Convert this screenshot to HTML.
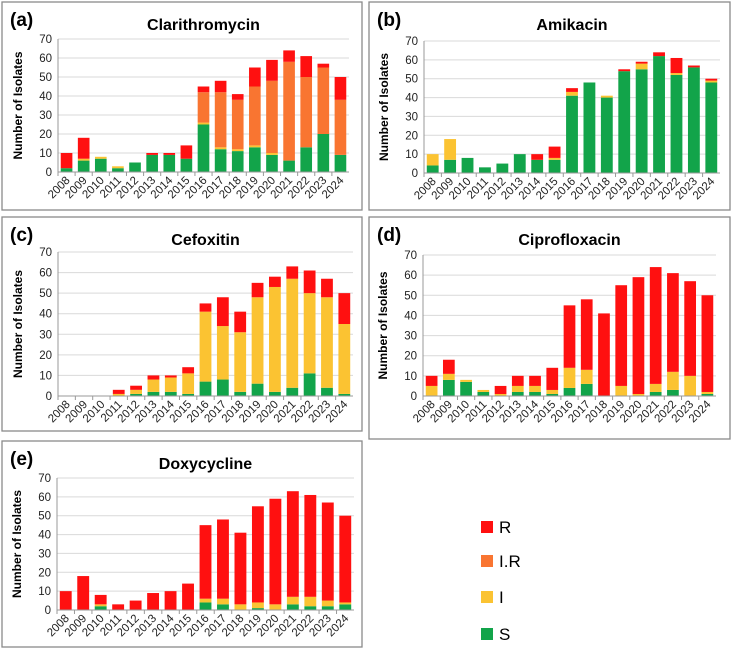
<!DOCTYPE html>
<html><head><meta charset="utf-8"><style>
html,body{margin:0;padding:0;background:#fff;}
svg{display:block;font-family:"Liberation Sans",Arial,sans-serif;}
</style></head><body>
<svg id="chart" width="732" height="649" viewBox="0 0 732 649" xmlns="http://www.w3.org/2000/svg"></svg>
<script>
const years = ["2008","2009","2010","2011","2012","2013","2014","2015","2016","2017","2018","2019","2020","2021","2022","2023","2024"];
const yTicks = [0,10,20,30,40,50,60,70];
const seriesNames = ["S","I","I.R","R"];
const seriesColors = ["#12a44a","#fbc332","#f97531","#ff1010"];

const claS = [2,6,7,2,5,9,9,7,25,12,11,13,9,6,13,20,9];
const claI = [0,1,1,1,0,0,0,0,1,1,1,1,1,0,0,0,0];
const claIR = [0,0,0,0,0,0,0,0,16,29,26,31,38,52,37,35,29];
const claR = [8,11,0,0,0,1,1,7,3,6,3,10,11,6,11,2,12];

const amiS = [4,7,8,3,5,10,7,7,41,48,40,54,55,62,52,56,48];
const amiI = [6,11,0,0,0,0,0,1,2,0,1,0,3,0,1,0,1];
const amiIR = [0,0,0,0,0,0,0,0,0,0,0,0,0,0,0,0,0];
const amiR = [0,0,0,0,0,0,3,6,2,0,0,1,1,2,8,1,1];

const cefS = [0,0,0,0,1,2,2,1,7,8,2,6,2,4,11,4,1];
const cefI = [0,0,0,1,2,6,7,10,34,26,29,42,51,53,39,44,34];
const cefIR = [0,0,0,0,0,0,0,0,0,0,0,0,0,0,0,0,0];
const cefR = [0,0,0,2,2,2,1,3,4,14,10,7,5,6,11,9,15];

const cipS = [0,8,7,2,0,2,2,1,4,6,0,0,0,2,3,0,1];
const cipI = [5,3,1,1,1,3,3,2,10,7,0,5,1,4,9,10,1];
const cipIR = [0,0,0,0,0,0,0,0,0,0,0,0,0,0,0,0,0];
const cipR = [5,7,0,0,4,5,5,11,31,35,41,50,58,58,49,47,48];

const doxS = [0,0,2,0,0,0,0,0,4,3,0,1,0,3,2,2,3];
const doxI = [0,0,1,0,0,0,0,0,2,3,3,3,3,4,5,3,1];
const doxIR = [0,0,0,0,0,0,0,0,0,0,0,0,0,0,0,0,0];
const doxR = [10,18,5,3,5,9,10,14,39,42,38,51,56,56,54,52,46];

const NS = "http://www.w3.org/2000/svg";
const svg = document.getElementById("chart");
function mk(tag, attrs, parent){
  const e = document.createElementNS(NS, tag);
  for (const k in attrs) e.setAttribute(k, attrs[k]);
  (parent||svg).appendChild(e);
  return e;
}

function drawPanel(p){
  const g = mk("g", {});
  
  
  const box = mk("rect", {x:p.bx, y:p.by, width:p.bw, height:p.bh, fill:"#fff", stroke:"#8a8a8a", "stroke-width":1.3}, g);
  
  
  const lab = mk("text", {x:p.bx+8, y:p.by+24, "font-size":19, "font-weight":"bold", fill:"#000"}, g);
  lab.textContent = "(" + p.key + ")";
  
  
  const tt = mk("text", {x:(p.x0+p.x1)/2, y:p.by+28, "font-size":16, "font-weight":"bold", "text-anchor":"middle", fill:"#000"}, g);
  tt.textContent = p.title;
  
  

  const yS = v => p.y0 - (v/70)*(p.y0 - p.y70);
  const step = (p.x1 - p.x0)/years.length;
  const xS = i => p.x0 + step*(i+0.5);
  const bw = step*0.68;

  yTicks.forEach(t=>{
    if (t>0){
      const gl = mk("line", {x1:p.x0, x2:p.x1, y1:yS(t), y2:yS(t), stroke:"#d9d9d9", "stroke-width":1}, g);
      
      
    }
    const tl = mk("text", {x:p.x0-6, y:yS(t)+4, "font-size":11.5, "text-anchor":"end", fill:"#222"}, g);
    tl.textContent = t;
    
    
  });
  const yt = mk("text", {x:0, y:0, "font-size":12, "font-weight":"bold", "text-anchor":"middle", fill:"#000",
    transform:"translate("+(p.x0-36)+","+((p.y0+p.y70)/2)+") rotate(-90)"}, g);
  yt.textContent = "Number of Isolates";
  
  

  const series = [p.S, p.I, p.IR, p.R];
  years.forEach((yr,i)=>{
    let base = 0;
    series.forEach((arr,si)=>{
      const v = arr[i];
      if (v>0){
        const r = mk("rect", {x:xS(i)-bw/2, y:yS(base+v), width:bw, height:yS(base)-yS(base+v), fill:seriesColors[si]}, g);
        
        
      }
      base += v;
    });
    const tk = mk("line", {x1:p.x0+step*i, x2:p.x0+step*i, y1:p.y0, y2:p.y0+4, stroke:"#999"}, g);
    
    
    const xl = mk("text", {x:0, y:0, "font-size":11.5, "text-anchor":"end", fill:"#222",
      transform:"translate("+(xS(i)+4)+","+(p.y0+9)+") rotate(-45)"}, g);
    xl.textContent = yr;
    
    
  });
  const ax = mk("line", {x1:p.x0, x2:p.x1, y1:p.y0, y2:p.y0, stroke:"#999", "stroke-width":1}, g);
  
  
  const ay = mk("line", {x1:p.x0, x2:p.x0, y1:p.y70, y2:p.y0, stroke:"#999", "stroke-width":1}, g);
  
  
}

drawPanel({key:"a", title:"Clarithromycin", bx:2, by:2, bw:360, bh:208, x0:58, x1:349, y70:39, y0:172, S:claS, I:claI, IR:claIR, R:claR});
drawPanel({key:"b", title:"Amikacin", bx:369, by:2, bw:361, bh:208, x0:424, x1:720, y70:41, y0:173, S:amiS, I:amiI, IR:amiIR, R:amiR});
drawPanel({key:"c", title:"Cefoxitin", bx:2, by:217, bw:360, bh:214, x0:58, x1:353, y70:252, y0:396, S:cefS, I:cefI, IR:cefIR, R:cefR});
drawPanel({key:"d", title:"Ciprofloxacin", bx:369, by:217, bw:361, bh:222, x0:423, x1:716, y70:255, y0:396, S:cipS, I:cipI, IR:cipIR, R:cipR});
drawPanel({key:"e", title:"Doxycycline", bx:2, by:441, bw:360, bh:206, x0:57, x1:354, y70:478, y0:610, S:doxS, I:doxI, IR:doxIR, R:doxR});

// legend
const lg = mk("g", {});


const legendOrder = [3,2,1,0];
const legendY = [527,561,597,634];
legendOrder.forEach((si,k)=>{
  const e = mk("g", {}, lg);
  
  
  mk("rect", {x:481, y:legendY[k]-6, width:12, height:12, fill:seriesColors[si]}, e);
  const t = mk("text", {x:499, y:legendY[k]+6, "font-size":17, fill:"#000"}, e);
  t.textContent = seriesNames[si];
});
</script>
</body></html>
